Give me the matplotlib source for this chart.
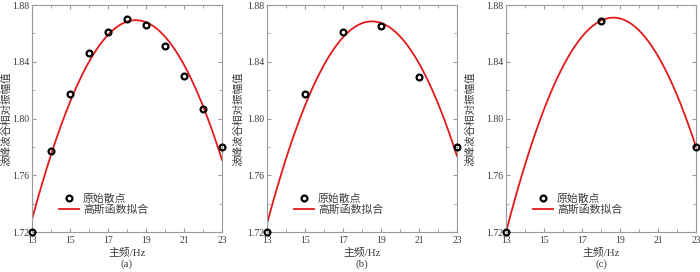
import numpy as np
import matplotlib
matplotlib.use('Agg')
import matplotlib.pyplot as plt

plt.rcParams['font.family'] = ['Liberation Serif', 'Noto Sans CJK SC']
plt.rcParams['font.size'] = 7.5

# scatter data
freq_a = [13, 14, 15, 16, 17, 18, 19, 20, 21, 22, 23]
amp_a = [1.720, 1.777, 1.817, 1.846, 1.861, 1.870, 1.866, 1.851, 1.830, 1.807, 1.780]
freq_b = [13, 15, 17, 19, 21, 23]
amp_b = [1.720, 1.817, 1.861, 1.865, 1.829, 1.780]
freq_c = [13, 18, 23]
amp_c = [1.720, 1.869, 1.780]
panel_tags = ['(a)', '(b)', '(c)']


def gauss_fit(x, y):
    # gauss1 fit: y = a*exp(-((x-b)/c)^2), start from log-quadratic, refine by Gauss-Newton
    x = np.asarray(x, float)
    y = np.asarray(y, float)
    p2, p1, p0 = np.polyfit(x, np.log(y), 2)
    b = -p1 / (2 * p2)
    c = np.sqrt(-1 / p2)
    a = np.exp(p0 - p1 ** 2 / (4 * p2))
    p = np.array([a, b, c])
    for _ in range(50):
        a, b, c = p
        e = np.exp(-((x - b) / c) ** 2)
        f = a * e
        J = np.column_stack([e, f * 2 * (x - b) / c ** 2, f * 2 * (x - b) ** 2 / c ** 3])
        step, *_ = np.linalg.lstsq(J, y - f, rcond=None)
        p = p + step
    return p


W, H = 700, 272
fig = plt.figure(figsize=(7, 2.72), dpi=100)
lefts = [32, 267, 506]
ylab_x = [12, 244, 476]   # right edge of the rotated y label, pixels
datasets = [(freq_a, amp_a), (freq_b, amp_b), (freq_c, amp_c)]
grey = '#9a9a9a'
txt = '#3c3c3c'

for left, yl, (fx, fy), tag in zip(lefts, ylab_x, datasets, panel_tags):
    ax = fig.add_axes([left / W, 1 - 232 / H, 190 / W, 227 / H])
    a, b, c = gauss_fit(fx, fy)
    xs = np.linspace(13, 23, 300)
    ax.plot(fx, fy, 'o', mfc='none', mec='black', mew=1.6, ms=4.2, label='原始散点',
            zorder=3, clip_on=False)
    ax.plot(xs, a * np.exp(-((xs - b) / c) ** 2), color='#e31a1c', lw=1.3, label='高斯函数拟合')
    ax.set_xlim(13, 23)
    ax.set_ylim(1.72, 1.88)
    ax.set_xticks([13, 15, 17, 19, 21, 23])
    ax.set_xticks(np.arange(13, 24, 1), minor=True)
    ax.set_yticks([1.72, 1.76, 1.80, 1.84, 1.88])
    ax.set_yticklabels(['1.72', '1.76', '1.80', '1.84', '1.88'])
    ax.set_yticks(np.arange(1.72, 1.881, 0.02), minor=True)
    ax.tick_params(which='both', direction='in', top=True, right=True, color=grey,
                   labelcolor=txt, labelsize=7.0)
    ax.tick_params(axis='x', pad=3)
    ax.tick_params(axis='y', pad=2)
    ax.tick_params(which='major', length=3)
    ax.tick_params(which='minor', length=2)
    for s in ax.spines.values():
        s.set_color(grey)
        s.set_linewidth(0.8)
    ax.set_xlabel('主频/Hz', color=txt, fontsize=7.8)
    ax.xaxis.set_label_coords(0.5, -(247 - 232) / 227)
    ax.set_ylabel('波峰波谷相对振幅值', color=txt, fontsize=7.6)
    ax.yaxis.set_label_coords(-(left - yl) / 190, 0.5)
    ax.text(0.5, -(264 - 232) / 227, tag, transform=ax.transAxes, ha='center', va='center',
            color=txt, fontsize=7.8)
    ax.legend(loc='upper left', bbox_to_anchor=(0.14, 0.17), frameon=False, handlelength=1.9,
              handletextpad=0.35, labelspacing=0.05, borderaxespad=0, borderpad=0,
              fontsize=7.8, labelcolor=txt)

fig.savefig('out.png', dpi=100)
